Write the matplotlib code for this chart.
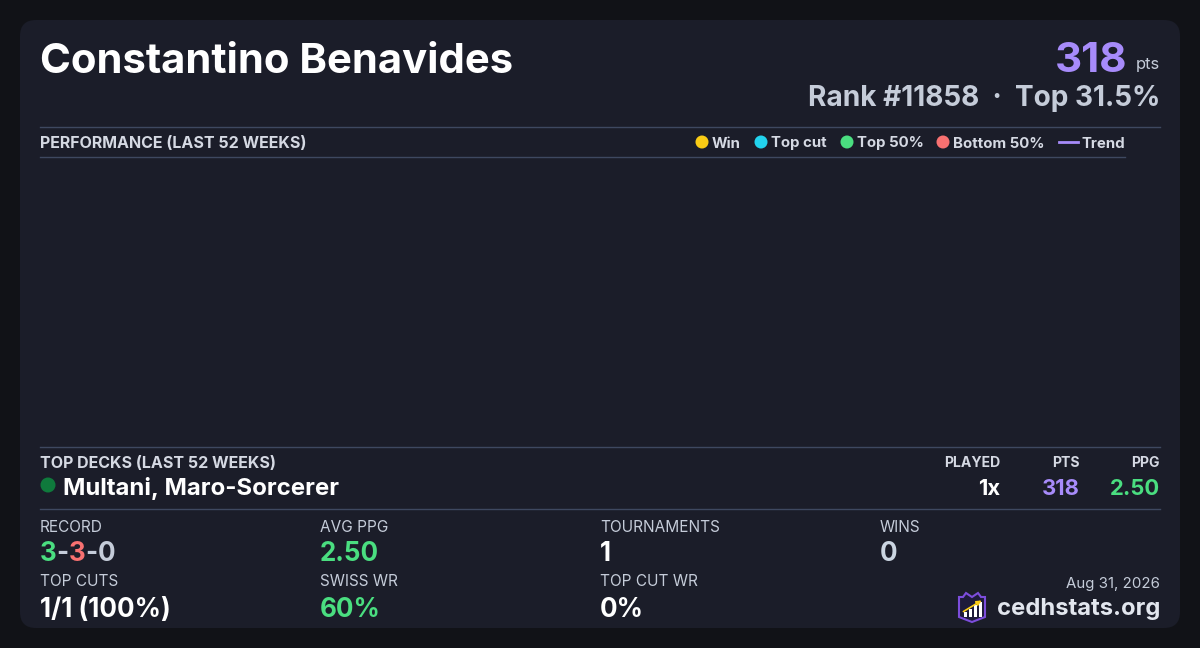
import matplotlib
matplotlib.use("Agg")
import matplotlib.pyplot as plt
from matplotlib.patches import FancyBboxPatch, Circle, Polygon, Rectangle
from matplotlib.lines import Line2D

plt.rcParams["font.family"] = ["Inter", "DejaVu Sans"]

# player / card data
player_name = "Constantino Benavides"
points = 318
rank = 11858
top_pct = 31.5
report_date = "Aug 31, 2026"

# performance chart (no events in the last 52 weeks)
week_index = []
week_points = []
week_result = []
trend_points = []
legend_labels = ["Win", "Top cut", "Top 50%", "Bottom 50%"]
legend_colors = ["#facc15", "#22d3ee", "#4ade80", "#f87171"]

# top decks
deck_names = ["Multani, Maro-Sorcerer"]
deck_played = [1]
deck_pts = [318]
deck_ppg = [2.50]

# stats
record = [3, 3, 0]
stat_labels = ["RECORD", "AVG PPG", "TOURNAMENTS", "WINS",
               "TOP CUTS", "SWISS WR", "TOP CUT WR"]
stat_values = [None, "2.50", "1", "0", "1/1 (100%)", "60%", "0%"]
stat_colors = [None, "#4ade80", "#ffffff", "#cbd5e1", "#ffffff", "#4ade80", "#ffffff"]

BG = "#111217"
CARD = "#1b1d29"
RULE = "#3e4860"
LABEL = "#d5d9e3"
GREY = "#c5ccd9"
PURPLE = "#a78bfa"
GREEN = "#4ade80"
RED = "#f87171"


def px(s):
    return s * 0.72


fig = plt.figure(figsize=(12, 6.48), dpi=100, facecolor=BG)
ax = fig.add_axes([0, 0, 1, 1])
ax.set_xlim(0, 1200)
ax.set_ylim(648, 0)
ax.axis("off")

ax.add_patch(FancyBboxPatch((20, 20), 1160, 608, boxstyle="round,pad=0,rounding_size=16",
                            fc=CARD, ec="none"))

# header
ax.text(40, 62, player_name, fontsize=px(41.8), fontweight="bold", color="white",
        va="center", ha="left")
ax.text(1160, 65, "pts", fontsize=px(16.5), color=GREY, va="center", ha="right")
ax.text(1127, 61, str(points), fontsize=px(42), fontweight="bold", color=PURPLE,
        va="center", ha="right")
ax.text(1160, 98, f"Rank #{rank}  \u00b7  Top {top_pct}%", fontsize=px(28),
        fontweight="bold", color=GREY, va="center", ha="right")

# rules
ax.add_line(Line2D([40, 1160], [126.5, 126.5], color=RULE, lw=1))
ax.add_line(Line2D([40, 1125], [156.5, 156.5], color=RULE, lw=1))
ax.add_line(Line2D([40, 1160], [446.5, 446.5], color=RULE, lw=1))
ax.add_line(Line2D([40, 1160], [508.5, 508.5], color=RULE, lw=1))

ax.text(40, 143.5, "PERFORMANCE (LAST 52 WEEKS)", fontsize=px(16), fontweight="bold",
        color=LABEL, va="center", ha="left")

# legend
leg_x = [702, 761, 847, 943]
for x, lab, col in zip(leg_x, legend_labels, legend_colors):
    ax.add_patch(Circle((x, 142), 6.5, fc=col, ec="none"))
    ax.text(x + 10, 143.5, lab, fontsize=px(15), fontweight="bold", color=LABEL,
            va="center", ha="left")
ax.add_line(Line2D([1059, 1078], [142, 142], color=PURPLE, lw=2))
ax.text(1081, 143.5, "Trend", fontsize=px(15), fontweight="bold", color=LABEL,
        va="center", ha="left")

# chart area (empty)
cax = fig.add_axes([40 / 1200, 1 - 446 / 648, 1085 / 1200, 290 / 648])
cax.set_facecolor("none")
cax.axis("off")
cax.scatter(week_index, week_points, s=60)
cax.plot(week_index, trend_points, color=PURPLE, lw=2)

# top decks
ax.text(40, 463.5, "TOP DECKS (LAST 52 WEEKS)", fontsize=px(16), fontweight="bold",
        color=LABEL, va="center", ha="left")
for lab, x in zip(["PLAYED", "PTS", "PPG"], [1000, 1080, 1160]):
    ax.text(x, 463, lab, fontsize=px(14), fontweight="bold", color=LABEL,
            va="center", ha="right")
for i, name in enumerate(deck_names):
    y = 489 + i * 30
    ax.add_patch(Circle((48, y - 4), 7.5, fc="#0f7a3c", ec="none"))
    ax.text(63, y, name, fontsize=px(24), fontweight="bold", color="white",
            va="center", ha="left")
    ax.text(1000, y, f"{deck_played[i]}x", fontsize=px(22), fontweight="bold",
            color="white", va="center", ha="right")
    ax.text(1080, y, f"{deck_pts[i]}", fontsize=px(22), fontweight="bold",
            color=PURPLE, va="center", ha="right")
    ax.text(1160, y, f"{deck_ppg[i]:.2f}", fontsize=px(22), fontweight="bold",
            color=GREEN, va="center", ha="right")

# stats grid
col_x = [40, 320, 600, 880]
row_y = [(526, 552), (581, 608)]
fig.canvas.draw()
renderer = fig.canvas.get_renderer()
for k, lab in enumerate(stat_labels):
    r, c = divmod(k, 4)
    x = col_x[c]
    ly, vy = row_y[r]
    ax.text(x, ly + 1, lab, fontsize=px(15.4), color=GREY, va="center", ha="left")
    if stat_values[k] is None:
        parts = [str(record[0]), "-", str(record[1]), "-", str(record[2])]
        cols = [GREEN, GREY, RED, GREY, GREY]
        cx = x
        for p, col in zip(parts, cols):
            t = ax.text(cx, vy + 2, p, fontsize=px(26), fontweight="bold", color=col,
                        va="center", ha="left")
            bb = t.get_window_extent(renderer)
            cx += bb.width
    else:
        ax.text(x, vy + 2, stat_values[k], fontsize=px(26), fontweight="bold",
                color=stat_colors[k], va="center", ha="left")

ax.text(1160, 584, report_date, fontsize=px(15), color=GREY, va="center", ha="right")
ax.text(1160, 609, "cedhstats.org", fontsize=px(23.8), fontweight="bold",
        color="#e2e6ee", va="center", ha="right")

# logo
ax.add_patch(Polygon([(959, 597), (963, 597), (966, 593), (972, 597), (978, 593),
                      (981, 597), (985, 597), (985, 617), (972, 622), (959, 617)],
                     closed=True, fc="#1e1b3a", ec="#7c4ddb", lw=1.5))
for bx, bh in zip([964, 969, 974, 979], [5, 8, 12, 15]):
    ax.add_patch(Rectangle((bx, 617 - bh), 3, bh, fc="white", ec="none"))
ax.annotate("", xy=(984, 599), xytext=(961, 613),
            arrowprops=dict(arrowstyle="-|>", color="#facc15", lw=1.2,
                            mutation_scale=7))

fig.savefig("out.png", dpi=100, facecolor=BG)
